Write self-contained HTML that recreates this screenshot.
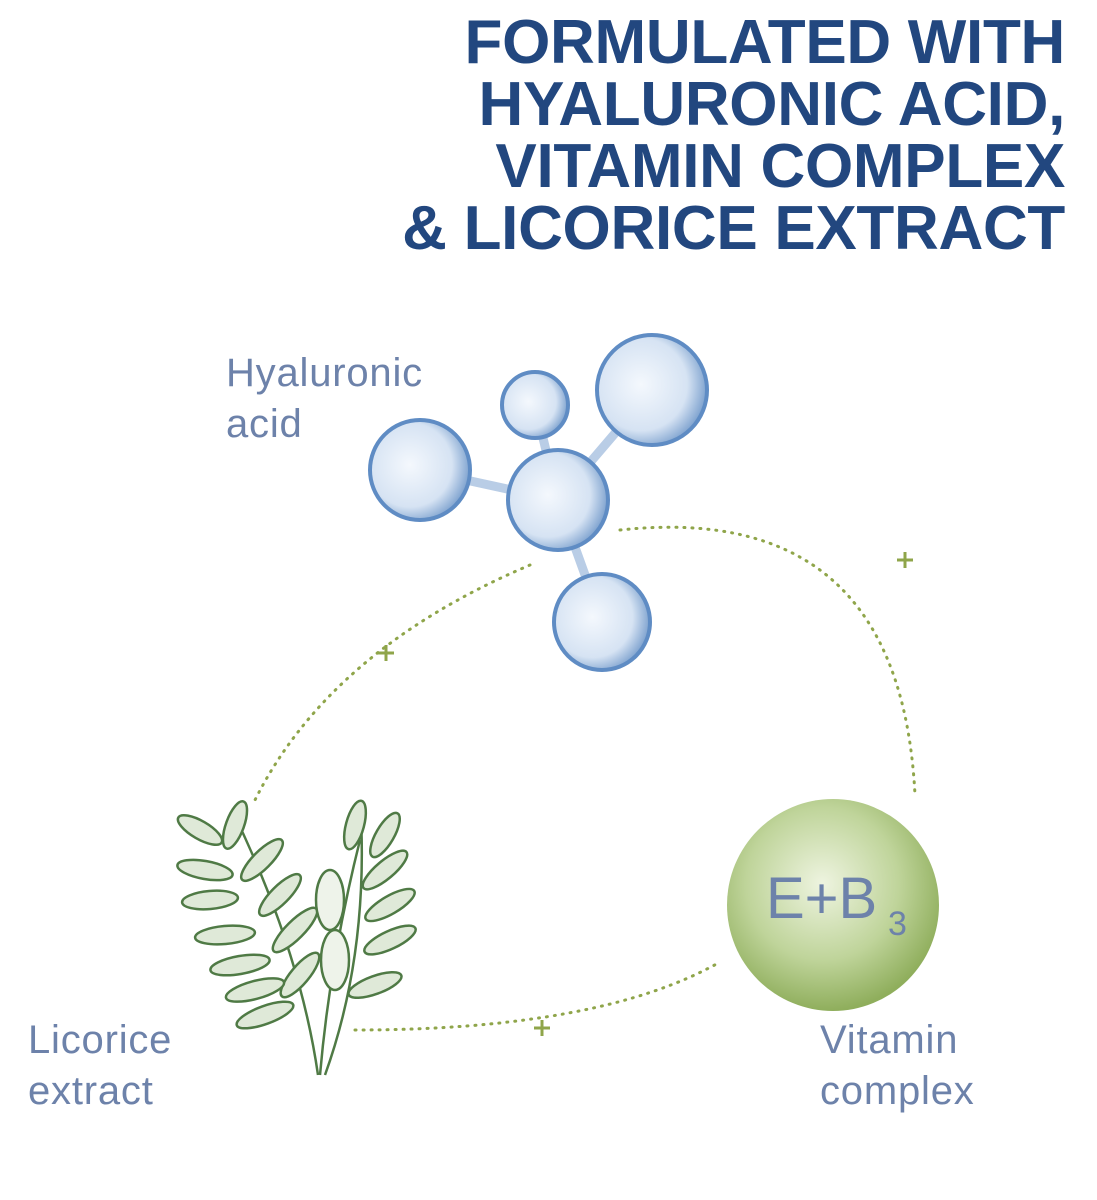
<!DOCTYPE html>
<html><head><meta charset="utf-8"><style>
body{margin:0;width:1097px;height:1200px;background:#fff;position:relative;overflow:hidden;font-family:"Liberation Sans",sans-serif}
.t{position:absolute;right:32px;text-align:right;color:#22477f;font-size:62px;font-weight:bold;line-height:62px;top:12px;letter-spacing:-0.3px}
.l{position:absolute;color:#6d82aa;font-size:40px;line-height:51px;letter-spacing:0.8px}
</style></head><body>
<div class="t">FORMULATED WITH<br>HYALURONIC ACID,<br>VITAMIN COMPLEX<br>&amp; LICORICE EXTRACT</div>
<div class="l" style="left:226px;top:348px">Hyaluronic<br>acid</div>
<div class="l" style="left:28px;top:1015px">Licorice<br>extract</div>
<div class="l" style="left:820px;top:1015px">Vitamin<br>complex</div>
<svg width="1097" height="1200" style="position:absolute;left:0;top:0">
<defs>
<radialGradient id="b" cx="40%" cy="45%" r="60%"><stop offset="0" stop-color="#f4f8fd"/><stop offset=".7" stop-color="#d6e3f3"/><stop offset="1" stop-color="#7fa3cf"/></radialGradient>
<radialGradient id="g" cx="45%" cy="40%" r="60%"><stop offset="0" stop-color="#eef4e0"/><stop offset=".6" stop-color="#bfd49a"/><stop offset="1" stop-color="#8fae5c"/></radialGradient>
</defs>
<g fill="none" stroke="#8fa54a" stroke-width="3" stroke-dasharray="1 7" stroke-linecap="round">
<path d="M620 530 Q900 500 915 795"/>
<path d="M530 565 Q330 650 255 800"/>
<path d="M355 1030 Q600 1030 720 962"/>
</g>
<g stroke="#8fa54a" stroke-width="3"><path d="M378 653h16M386 645v16M897 560h16M905 552v16M534 1028h16M542 1020v16"/></g>
<g stroke="#b9cde6" stroke-width="9" fill="none"><path d="M420 470L558 500L535 405M558 500L652 390M558 500L602 622"/></g>
<g fill="url(#b)" stroke="#5f8cc4" stroke-width="4">
<circle cx="420" cy="470" r="50"/><circle cx="535" cy="405" r="33"/><circle cx="652" cy="390" r="55"/><circle cx="558" cy="500" r="50"/><circle cx="602" cy="622" r="48"/>
</g>
<circle cx="833" cy="905" r="106" fill="url(#g)"/>
<text x="766" y="918" font-family="Liberation Sans" font-size="58" fill="#6d82aa">E+B</text><text x="888" y="935" font-family="Liberation Sans" font-size="34" fill="#6d82aa">3</text>
<g stroke="#4f7a45" stroke-width="2.5" fill="#dfe9d8">
<path d="M318 1075 Q300 950 232 810" fill="none"/><path d="M320 1075 Q330 960 360 840" fill="none"/><path d="M325 1075 Q370 950 360 800" fill="none"/>
<g>
<ellipse cx="200" cy="830" rx="25" ry="9" transform="rotate(30 200 830)"/><ellipse cx="235" cy="825" rx="25" ry="9" transform="rotate(-70 235 825)"/>
<ellipse cx="205" cy="870" rx="28" ry="9" transform="rotate(10 205 870)"/><ellipse cx="262" cy="860" rx="28" ry="9" transform="rotate(-45 262 860)"/>
<ellipse cx="210" cy="900" rx="28" ry="9" transform="rotate(-5 210 900)"/><ellipse cx="280" cy="895" rx="28" ry="9" transform="rotate(-45 280 895)"/>
<ellipse cx="225" cy="935" rx="30" ry="9" transform="rotate(-5 225 935)"/><ellipse cx="295" cy="930" rx="30" ry="9" transform="rotate(-45 295 930)"/>
<ellipse cx="240" cy="965" rx="30" ry="9" transform="rotate(-10 240 965)"/><ellipse cx="300" cy="975" rx="28" ry="9" transform="rotate(-50 300 975)"/>
<ellipse cx="255" cy="990" rx="30" ry="9" transform="rotate(-15 255 990)"/><ellipse cx="265" cy="1015" rx="30" ry="9" transform="rotate(-20 265 1015)"/>
<ellipse cx="355" cy="825" rx="25" ry="9" transform="rotate(-75 355 825)"/><ellipse cx="385" cy="835" rx="25" ry="9" transform="rotate(-60 385 835)"/>
<ellipse cx="385" cy="870" rx="28" ry="9" transform="rotate(-40 385 870)"/><ellipse cx="390" cy="905" rx="28" ry="9" transform="rotate(-30 390 905)"/>
<ellipse cx="390" cy="940" rx="28" ry="9" transform="rotate(-25 390 940)"/><ellipse cx="375" cy="985" rx="28" ry="9" transform="rotate(-20 375 985)"/>
<ellipse cx="330" cy="900" rx="14" ry="30" fill="#eef3ea"/><ellipse cx="335" cy="960" rx="14" ry="30" fill="#eef3ea"/>
</g></g>
</svg>
</body></html>
